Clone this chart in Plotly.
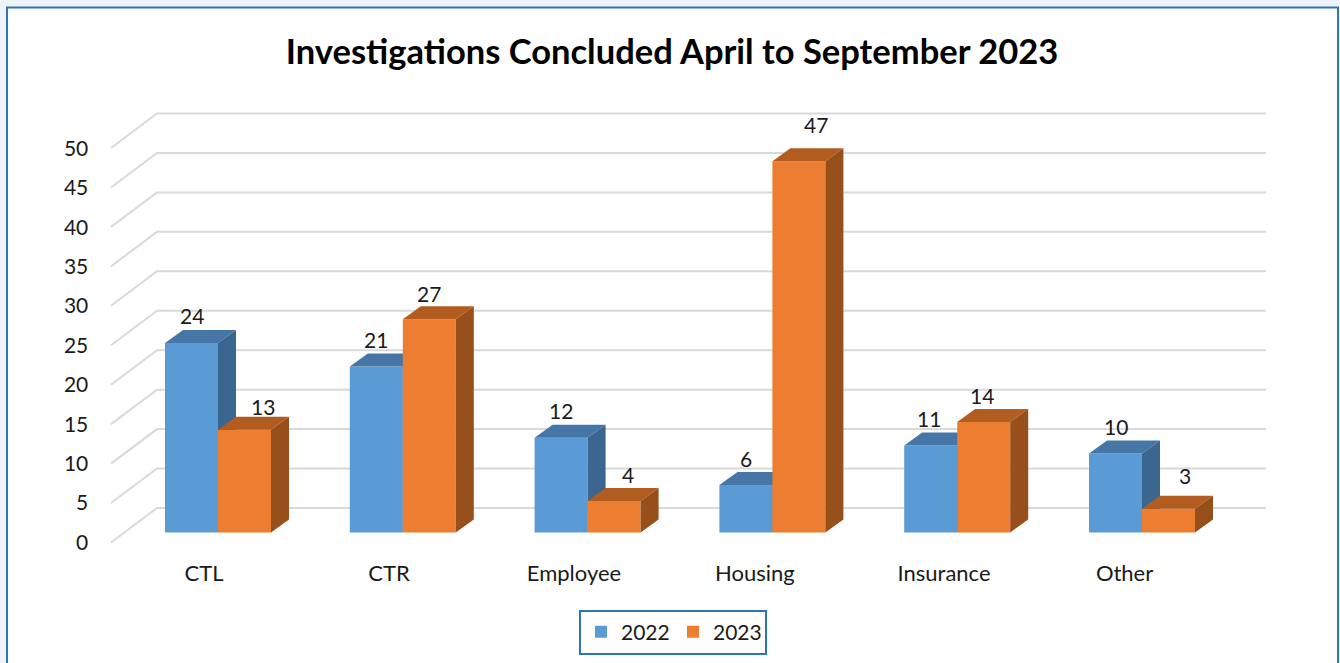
import plotly.graph_objects as go

TITLE = "Investigations Concluded April to September 2023"
categories = ["CTL", "CTR", "Employee", "Housing", "Insurance", "Other"]
values_2022 = [24, 21, 12, 6, 11, 10]
values_2023 = [13, 27, 4, 47, 14, 3]
y_ticks = [0, 5, 10, 15, 20, 25, 30, 35, 40, 45, 50]

# label nudges in px (style only)
nudge_2022 = [(0, 27), (0, 27), (0, 27), (0, 27), (-2, 27), (0, 27)]
nudge_2023 = [(18, 23), (0, 26), (14, 26), (17, 37), (-2, 26), (16, 33)]
category_nudge = [0, 0, 0, -0.022, 0, -0.024]

W, H = 1340, 663
GROUP_PX = 184.8
UNIT_PX = 7.9
BAR_PX = 53.0
DEPTH_X = 18.0
DEPTH_Y = 13.0
BASE_PX = 532.5
ORIGIN_PX = 218.0

WALL_L, WALL_R, WALL_BASE, WALL_UNIT = 157.0, 1266.0, 508.0, 7.89
SIDE_X, SIDE_Y = 46.0, 34.5

BLUE, BLUE_TOP, BLUE_SIDE = "#5B9BD5", "#4676A6", "#3B6690"
ORANGE, ORANGE_TOP, ORANGE_SIDE = "#ED7D31", "#B35C20", "#97501C"
GRID = "#D9D9D9"
BORDER = "#2E75B6"
INK = "#1A1A1A"
FONT = "Lato"

w = BAR_PX / GROUP_PX
dx = DEPTH_X / GROUP_PX
dy = DEPTH_Y / UNIT_PX
idx = list(range(len(categories)))
xr = [-ORIGIN_PX / GROUP_PX, (W - ORIGIN_PX) / GROUP_PX]
yr = [(BASE_PX - H) / UNIT_PX, BASE_PX / UNIT_PX]
wall_span = WALL_R - WALL_L
wall_xr = [-WALL_L / wall_span, (W - WALL_L) / wall_span]
wall_yr = [(WALL_BASE - H) / WALL_UNIT, WALL_BASE / WALL_UNIT]


def ydom(top, bottom):
    return [(H - bottom) / H, (H - top) / H]


def faces(centres, vals):
    tx, ty, sx, sy = [], [], [], []
    for c, v in zip(centres, vals):
        l, r = c - w / 2, c + w / 2
        tx += [l, r, r + dx, l + dx, l, None]
        ty += [v, v, v + dy, v + dy, v, None]
        sx += [r, r + dx, r + dx, r, r, None]
        sy += [0, dy, v + dy, v, 0, None]
    return tx, ty, sx, sy


fig = go.Figure()

# back wall grid with its side-wall returns
gx, gy = [], []
for t in y_ticks:
    gx += [-SIDE_X / wall_span, 0, 1, None]
    gy += [t - SIDE_Y / WALL_UNIT, t, t, None]
fig.add_trace(go.Scatter(x=gx, y=gy, mode="lines", line=dict(color=GRID, width=2),
                         hoverinfo="skip", showlegend=False, xaxis="x", yaxis="y"))

# invisible carrier for the label axes
fig.add_trace(go.Scatter(x=idx, y=[0] * len(idx), mode="markers", marker=dict(opacity=0),
                         hoverinfo="skip", showlegend=False, xaxis="x2", yaxis="y2"))

series = [
    ("2022", values_2022, -w / 2, BLUE, BLUE_TOP, BLUE_SIDE, "x3", "y3", nudge_2022),
    ("2023", values_2023, w / 2, ORANGE, ORANGE_TOP, ORANGE_SIDE, "x4", "y4", nudge_2023),
]
annotations = []
for name, vals, off, col, top, side, xa, ya, nudge in series:
    centres = [i + off for i in idx]
    fig.add_trace(go.Bar(x=centres, y=vals, width=w, name=name, marker=dict(color=col, line=dict(width=0)),
                         xaxis=xa, yaxis=ya))
    tx, ty, sx, sy = faces(centres, vals)
    fig.add_trace(go.Scatter(x=tx, y=ty, mode="lines", fill="toself", fillcolor=top, line=dict(width=0),
                             hoverinfo="skip", showlegend=False, xaxis=xa, yaxis=ya))
    fig.add_trace(go.Scatter(x=sx, y=sy, mode="lines", fill="toself", fillcolor=side, line=dict(width=0),
                             hoverinfo="skip", showlegend=False, xaxis=xa, yaxis=ya))
    for c, v, (nx, ny) in zip(centres, vals, nudge):
        annotations.append(dict(x=c, y=v, xref=xa, yref=ya, text=str(v), showarrow=False,
                                xshift=nx, yshift=ny, font=dict(family=FONT, size=21, color=INK)))

hidden = dict(visible=False, showgrid=False, zeroline=False)
fig.update_layout(
    width=W, height=H, margin=dict(l=0, r=0, t=0, b=0, autoexpand=False),
    paper_bgcolor="#EFF4FC", plot_bgcolor="rgba(0,0,0,0)",
    font=dict(family=FONT, size=21, color=INK),
    title=dict(text=f"<b>{TITLE}</b>", x=672 / W, xanchor="center", y=1 - 52 / H, yanchor="middle",
               font=dict(family=FONT, size=34.5, color="#000000")),
    xaxis=dict(domain=[0, 1], range=wall_xr, anchor="y", **hidden),
    yaxis=dict(domain=[0, 1], range=wall_yr, anchor="x", **hidden),
    xaxis2=dict(domain=[111.5 / W, 1221.5 / W], range=[-0.5, 5.5],
                tickvals=[i + n for i, n in zip(idx, category_nudge)], ticktext=categories,
                showgrid=False, zeroline=False, showline=False, ticks="outside", ticklen=11,
                tickcolor="rgba(0,0,0,0)", tickfont=dict(family=FONT, size=22, color=INK), anchor="y2"),
    yaxis2=dict(domain=ydom(148.5, 542.5), range=[0, 50], tickvals=y_ticks, showgrid=False, zeroline=False,
                showline=False, ticks="outside", ticklen=18, tickcolor="rgba(0,0,0,0)",
                tickfont=dict(family=FONT, size=21, color=INK), anchor="x2"),
    xaxis3=dict(domain=[0, 1], range=xr, anchor="y3", **hidden),
    yaxis3=dict(domain=[0, 1], range=yr, anchor="x3", **hidden),
    xaxis4=dict(domain=[0, 1], range=xr, anchor="y4", **hidden),
    yaxis4=dict(domain=[0, 1], range=yr, anchor="x4", **hidden),
    legend=dict(orientation="h", x=673 / W, xanchor="center", y=1 - 632 / H, yanchor="middle",
                bgcolor="#FFFFFF", bordercolor=BORDER, borderwidth=2, itemwidth=30,
                entrywidth=47, entrywidthmode="pixels",
                font=dict(family=FONT, size=21, color=INK), itemclick=False, itemdoubleclick=False),
    annotations=annotations,
    shapes=[dict(type="rect", xref="paper", yref="paper", x0=7 / W, x1=1338 / W, y0=-0.02, y1=1 - 7.5 / H,
                 fillcolor="#FFFFFF", line=dict(color=BORDER, width=2), layer="below")],
    showlegend=True,
)

fig.write_html("out.html", config={"displayModeBar": False},
               post_script="document.body.style.margin='0';")
